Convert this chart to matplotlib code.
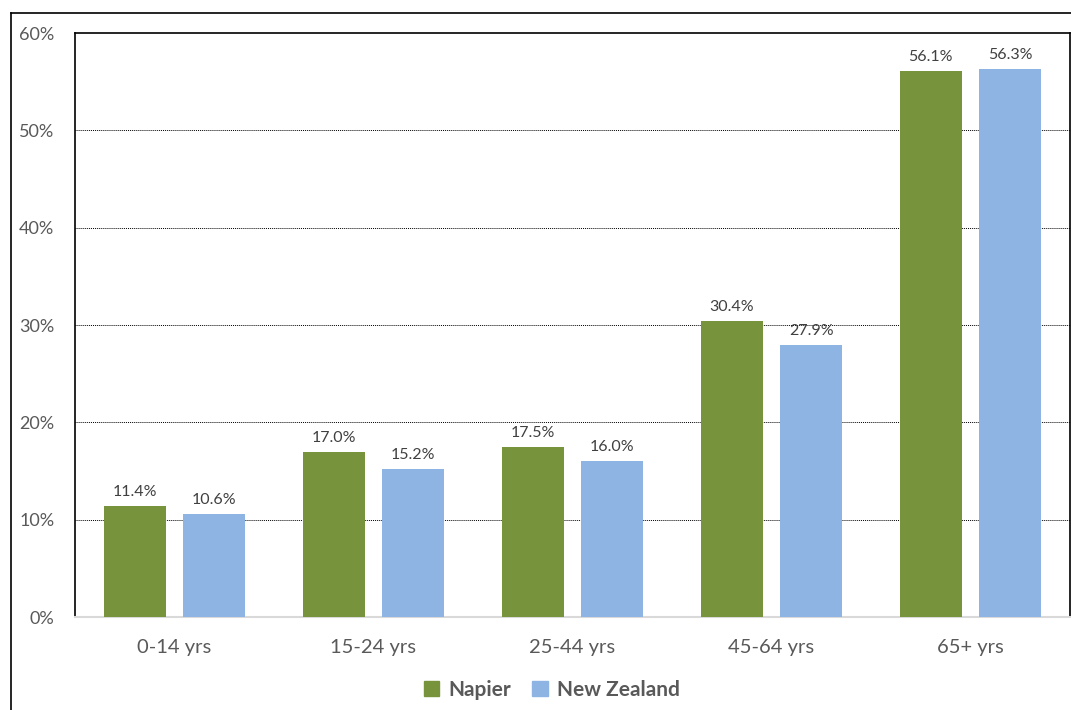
import matplotlib
matplotlib.use("Agg")
import matplotlib.pyplot as plt
import numpy as np
from matplotlib.lines import Line2D
from matplotlib.patches import Patch

categories = ["0-14 yrs", "15-24 yrs", "25-44 yrs", "45-64 yrs", "65+ yrs"]
napier = [11.4, 17.0, 17.5, 30.4, 56.1]
nz = [10.6, 15.2, 16.0, 27.9, 56.3]
series_names = ["Napier", "New Zealand"]
yticks = [0, 10, 20, 30, 40, 50, 60]

green = "#77933C"
blue = "#8EB4E3"
txt = "#595959"

plt.rcParams['font.family'] = ['Lato', 'DejaVu Sans']

W, H = 1071, 710
fig = plt.figure(figsize=(W / 100, H / 100), dpi=100)
ax = fig.add_axes([75 / W, 1 - 617 / H, (1070 - 75) / W, (617 - 33) / H])

x = np.arange(len(categories))
bw = 0.31
off = 0.2
b1 = ax.bar(x - off, napier, bw, color=green, zorder=3)
b2 = ax.bar(x + off, nz, bw, color=blue, zorder=3)

for bars, vals in ((b1, napier), (b2, nz)):
    for r, v in zip(bars, vals):
        ax.annotate(f"{v:.1f}%", (r.get_x() + r.get_width() / 2, v),
                    xytext=(0, 5), textcoords="offset points",
                    ha="center", va="bottom", fontsize=11.5, color="#404040")

ax.set_xlim(-0.5, len(categories) - 0.5)
ax.set_ylim(0, 60)
ax.set_yticks(yticks)
ax.set_yticklabels([f"{t}%" for t in yticks], fontsize=13, color=txt)
ax.set_xticks(x)
ax.set_xticklabels(categories, fontsize=14.5, color=txt)
ax.tick_params(axis="both", length=0)
ax.tick_params(axis="y", pad=15)
ax.tick_params(axis="x", pad=16)

for t in yticks[1:-1]:
    ax.axhline(t, color="black", linestyle=(0, (1, 1)), linewidth=0.7, zorder=1)

for s in ("left", "top", "right"):
    ax.spines[s].set_color("black")
    ax.spines[s].set_linewidth(1.2)
ax.spines["bottom"].set_color("#D9D9D9")
ax.spines["bottom"].set_linewidth(1.5)

handles = [Patch(color=green), Patch(color=blue)]
leg = fig.legend(handles, series_names, loc="center", bbox_to_anchor=(552 / W, 1 - 690 / H),
                 ncol=2, frameon=False, handlelength=0.75, handleheight=0.75,
                 handletextpad=0.45, columnspacing=1.0,
                 prop={"size": 15, "weight": "bold"})
for t in leg.get_texts():
    t.set_color(txt)

x0, y0 = 11 / W, 1 - 13 / H
fig.add_artist(Line2D([x0, 1], [y0, y0], color="black", linewidth=1.2, transform=fig.transFigure))
fig.add_artist(Line2D([x0, x0], [y0, 0], color="black", linewidth=1.2, transform=fig.transFigure))

fig.savefig("out.png", dpi=100)
